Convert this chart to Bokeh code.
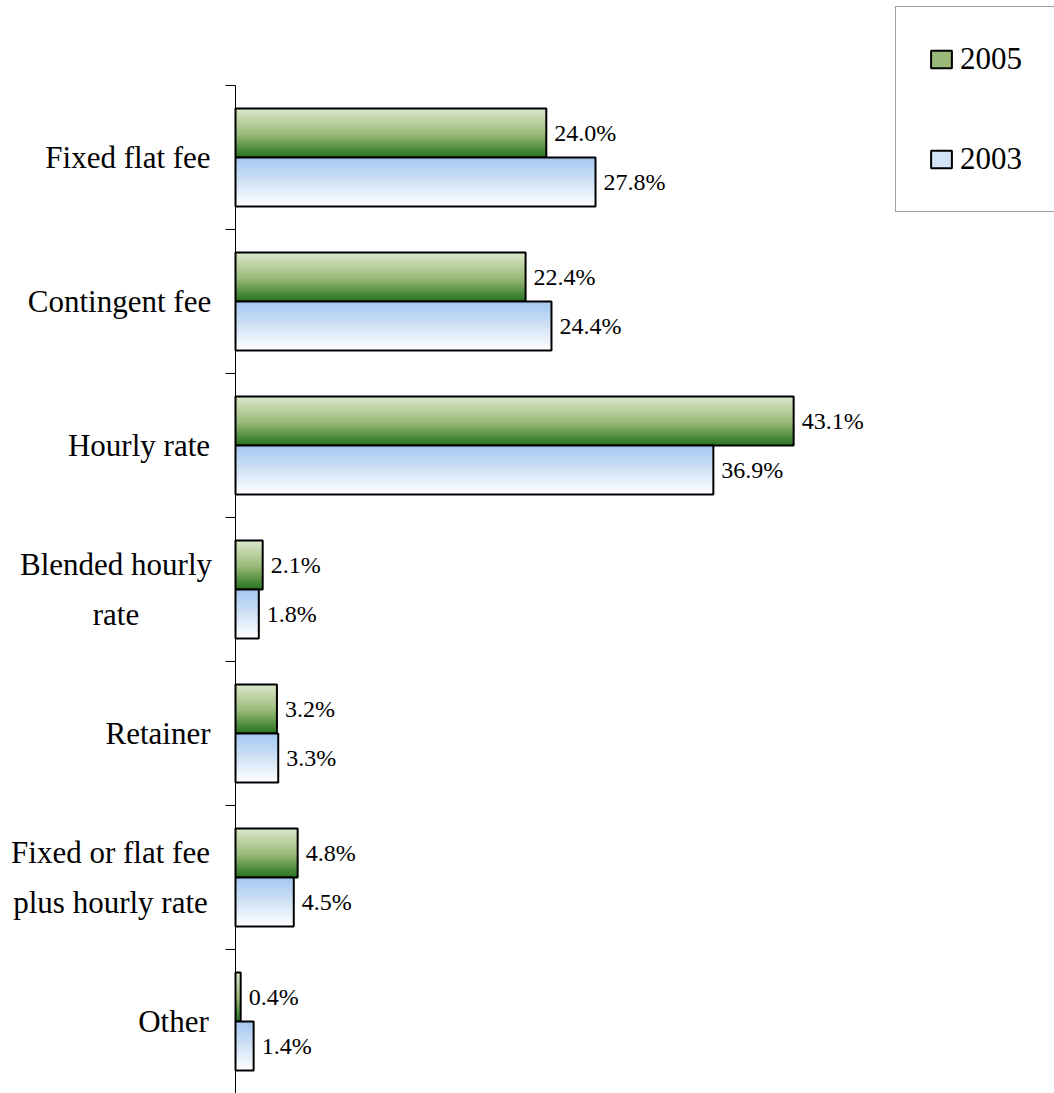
import numpy as np
from bokeh.plotting import figure
from bokeh.models import Range1d, Legend, LegendItem, ColumnDataSource
from bokeh.core.properties import value
from bokeh.embed import file_html
from bokeh.resources import INLINE

# ---- data ----
categories = ["Fixed flat fee", "Contingent fee", "Hourly rate", "Blended hourly\nrate",
              "Retainer", "Fixed or flat fee\nplus hourly rate", "Other"]
v2005 = [24.0, 22.4, 43.1, 2.1, 3.2, 4.8, 0.4]
v2003 = [27.8, 24.4, 36.9, 1.8, 3.3, 4.5, 1.4]
series_names = ["2005", "2003"]

# ---- styling helpers ----
FONT = "Liberation Serif"
green_stops = [(0.0, (0xd8, 0xe7, 0xca)), (0.5, (0xa0, 0xbc, 0x7c)), (1.0, (0x2a, 0x76, 0x24))]
blue_stops = [(0.0, (0xa5, 0xc8, 0xef)), (0.5, (0xd0, 0xe2, 0xf6)), (1.0, (0xfd, 0xfe, 0xff))]


def interp(stops, t):
    for (t0, c0), (t1, c1) in zip(stops[:-1], stops[1:]):
        if t <= t1:
            f = (t - t0) / (t1 - t0) if t1 > t0 else 0
            c = [round(a + (b - a) * f) for a, b in zip(c0, c1)]
            return "#%02x%02x%02x" % tuple(c)
    return "#%02x%02x%02x" % stops[-1][1]


W, H = 1054, 1093
LEFT = 235          # pixel position of the value axis (0 %)
TOP_PX = 85         # pixel position of the top category boundary
PX_PER_CAT = 144.0
PX_PER_PCT = 12.95
p = figure(width=W, height=H,
           x_range=Range1d(-LEFT / PX_PER_PCT, (W - LEFT) / PX_PER_PCT),
           y_range=Range1d((H - TOP_PX) / PX_PER_CAT, -TOP_PX / PX_PER_CAT),
           output_backend="svg", toolbar_location=None,
           x_axis_location=None, y_axis_location=None,
           min_border_left=0, min_border_right=0, min_border_top=0, min_border_bottom=0)
p.outline_line_color = None
p.grid.visible = False

n = len(categories)
idx = np.arange(n)

# category axis: line along 0 % and outward tick marks at category boundaries
bounds = np.arange(n + 1)
p.segment(x0=[0], y0=[0], x1=[0], y1=[n], line_color="black", line_width=1)
p.ray(x=[0] * (n + 1), y=bounds, length=10, length_units="screen", angle=np.pi,
      line_color="black", line_width=1)

BAR_H = 0.34
N = 24
legend_items = []
for name, vals, off, stops in [(series_names[0], v2005, 0.16, green_stops),
                               (series_names[1], v2003, 0.50, blue_stops)]:
    vals = np.array(vals)
    top = idx + off
    bottom = top + BAR_H
    strips = []
    for k in range(N):
        col = interp(stops, k / (N - 1))
        s_top = top + k * BAR_H / N
        strips.append(p.hbar(y=(s_top + bottom) / 2, height=bottom - s_top, left=0, right=vals,
                             fill_color=col, line_color=None))
    outline = p.hbar(y=top + BAR_H / 2, height=BAR_H, left=0, right=vals,
                     fill_color=None, line_color="black", line_width=2)
    p.text(x=vals, y=top + BAR_H / 2, text=[f"{v:.1f}%" for v in vals],
           x_offset=8, text_baseline="middle", text_align="left",
           text_font=value(FONT), text_font_size="24px", text_color="black")
    legend_items.append(LegendItem(label=name, renderers=[strips[N // 2], outline]))

# category labels (centered text blocks to the left of the axis)
label_offsets = [-107.5, -116, -96.5, -119.5, -77.5, -125, -62]
lab_src = ColumnDataSource(dict(x=[0] * n, y=idx + 0.5, text=categories, xo=label_offsets))
p.text(source=lab_src, x="x", y="y", text="text", x_offset="xo",
       text_align="center", text_baseline="middle", text_line_height=1.45,
       text_font=value(FONT), text_font_size="31px", text_color="black")

legend = Legend(items=legend_items, location=(895, H - 212), margin=0, padding=32,
                spacing=60, glyph_width=26, glyph_height=22, label_standoff=6, label_height=40,
                label_text_font=FONT, label_text_font_size="31px", label_text_color="black",
                border_line_color="#404040", border_line_width=1,
                background_fill_color="white", background_fill_alpha=1)
p.add_layout(legend)

open("out.html", "w").write(file_html(p, INLINE))
